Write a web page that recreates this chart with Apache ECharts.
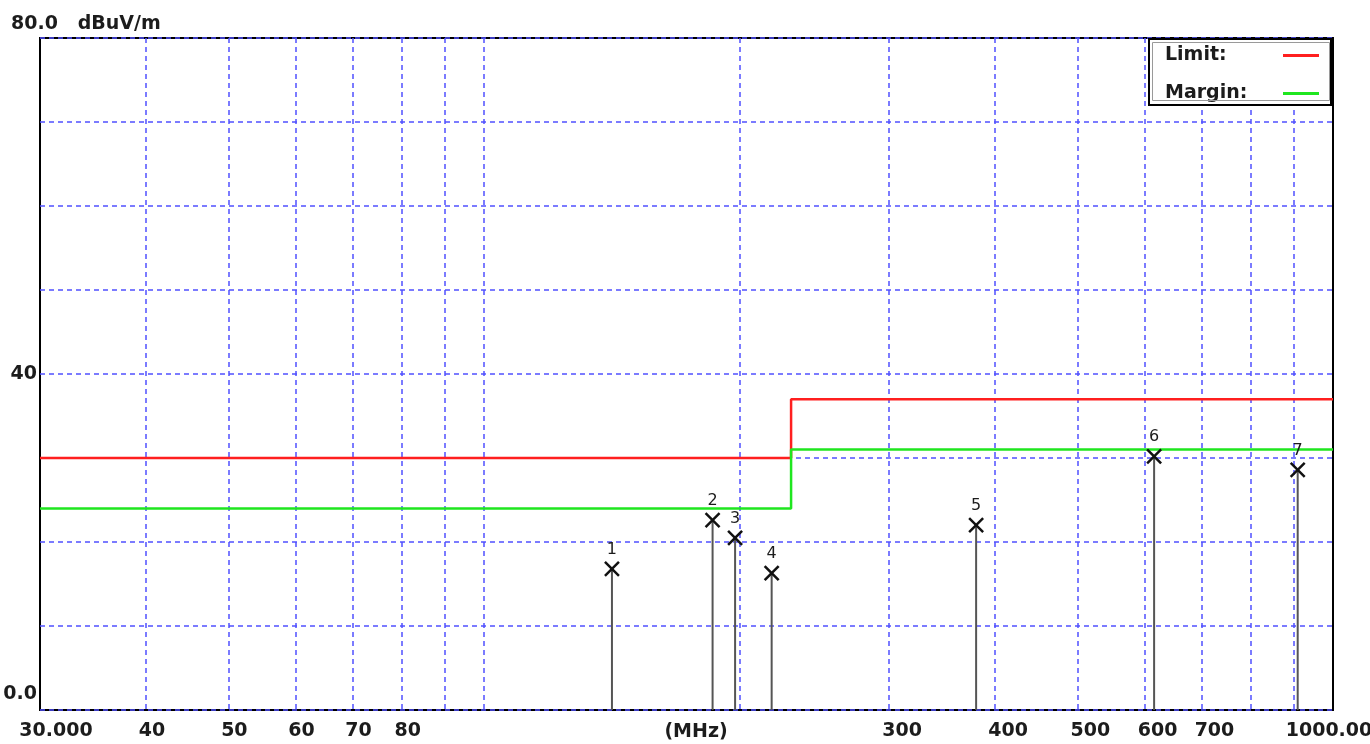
<!DOCTYPE html>
<html>
<head>
<meta charset="utf-8">
<title>Radiated Emission</title>
<script src="https://cdn.jsdelivr.net/npm/echarts@6/dist/echarts.min.js"></script>
<style>
  html, body { margin: 0; padding: 0; background: #fff; }
  #chart { width: 1370px; height: 744px; }
</style>
</head>
<body>
<div id="chart"></div>
<script>
// Frequency axis (MHz, logarithmic) – label positions and texts
const xTickFreqs  = [30, 40, 50, 60, 70, 80, 300, 400, 500, 600, 700, 1000];
const xTickLabels = ['30.000', '40', '50', '60', '70', '80', '300', '400', '500', '600', '700', '1000.00'];
// Vertical grid lines (MHz)
const xGridFreqs = [40, 50, 60, 70, 80, 90, 100, 200, 300, 400, 500, 600, 700, 800, 900];

// Level axis (dBuV/m)
const yTickValues = [0, 40];
const yTickLabels = ['0.0', '40'];

// Limit and margin lines (step at 230 MHz)
const limitFreqs   = [30, 230, 230, 1000];
const limitLevels  = [30, 30, 37, 37];
const marginLevels = [24, 24, 31, 31];

// Measured peaks
const peakFreqs  = [141.5, 185.9, 197.6, 218.2, 379.9, 615.6, 908.7];
const peakLevels = [16.8, 22.6, 20.5, 16.3, 22.0, 30.2, 28.6];
const peakLabels = ['1', '2', '3', '4', '5', '6', '7'];

const lg = Math.log10;
const FONT = 'DejaVu Sans';

function labelFor(v) {
  for (let i = 0; i < xTickFreqs.length; i++) {
    if (Math.abs(lg(xTickFreqs[i]) - v) < 1e-6) return { text: xTickLabels[i], i };
  }
  return null;
}

const chart = echarts.init(document.getElementById('chart'), null, { renderer: 'canvas' });

const baseText = { fontFamily: FONT, fontSize: 19, fontWeight: 'bold', color: '#1c1c1c' };

const option = {
  animation: false,
  backgroundColor: '#fff',
  title: {
    text: '80.0   dBuV/m',
    left: 6,
    top: 10,
    textStyle: Object.assign({}, baseText)
  },
  legend: {
    data: ['Limit:', 'Margin:'],
    orient: 'vertical',
    left: 1149,
    top: 39,
    align: 'right',
    padding: [7, 12, 2, 16],
    itemGap: 19,
    itemWidth: 36,
    itemHeight: 3,
    icon: 'rect',
    backgroundColor: '#fff',
    borderColor: '#000',
    borderWidth: 2,
    selectedMode: false,
    formatter: name => '{n|' + name + '}',
    textStyle: Object.assign({}, baseText, {
      rich: { n: Object.assign({}, baseText, { width: 113, align: 'left' }) }
    })
  },
  graphic: [{
    type: 'rect',
    z: 100,
    silent: true,
    shape: { x: 1152.5, y: 42.5, width: 177, height: 58 },
    style: { fill: null, stroke: '#9a9a9a', lineWidth: 1 }
  }],
  grid: {
    left: 40, right: 37, top: 38, bottom: 34,
    outerBoundsMode: 'none',
    containLabel: false,
    show: true,
    borderColor: '#000',
    borderWidth: 2,
    backgroundColor: 'transparent'
  },
  xAxis: {
    type: 'value',
    min: lg(30),
    max: lg(1000),
    name: '(MHz)',
    nameLocation: 'middle',
    nameGap: 13,
    nameMoveOverlap: false,
    nameTextStyle: Object.assign({}, baseText, { padding: [0, 0, 0, 19], verticalAlign: 'top' }),
    axisLine: { show: false },
    axisTick: { show: false, customValues: xGridFreqs.map(lg) },
    splitLine: {
      show: true,
      lineStyle: { color: '#5050ff', width: 1.5, type: [5, 4] }
    },
    axisLabel: {
      customValues: xTickFreqs.map(lg),
      margin: 12,
      formatter: v => {
        const l = labelFor(v);
        if (!l) return '';
        if (l.i === 0) return '{a|' + l.text + '}';
        if (l.i === xTickFreqs.length - 1) return '{z|' + l.text + '}';
        if (xTickFreqs[l.i] >= 300) return '{c|' + l.text + '}';
        return '{b|' + l.text + '}';
      },
      rich: {
        a: Object.assign({}, baseText, { padding: [0, 0, 0, 32] }),
        b: Object.assign({}, baseText, { padding: [0, 0, 0, 12] }),
        c: Object.assign({}, baseText, { padding: [0, 0, 0, 26] }),
        z: Object.assign({}, baseText, { padding: [0, 8, 0, 0] })
      }
    }
  },
  yAxis: {
    type: 'value',
    min: 0,
    max: 80,
    interval: 10,
    axisLine: { show: false },
    axisTick: { show: false },
    splitLine: {
      show: true,
      lineStyle: { color: '#5050ff', width: 1.5, type: [5, 4] }
    },
    axisLabel: {
      customValues: yTickValues,
      margin: 3,
      formatter: v => {
        const i = yTickValues.indexOf(v);
        if (i < 0) return '';
        return v === 0 ? '{lo|' + yTickLabels[i] + '}' : '{m|' + yTickLabels[i] + '}';
      },
      rich: {
        lo: Object.assign({}, baseText, { padding: [0, 0, 32, 0] }),
        m: Object.assign({}, baseText)
      }
    }
  },
  series: [
    {
      name: 'Limit:',
      type: 'line',
      symbol: 'none',
      z: 3,
      color: '#ff1f1f',
      lineStyle: { color: '#ff1f1f', width: 2.5 },
      data: limitFreqs.map((f, i) => [lg(f), limitLevels[i]])
    },
    {
      name: 'Margin:',
      type: 'line',
      symbol: 'none',
      z: 3,
      color: '#1fe61f',
      lineStyle: { color: '#1fe61f', width: 2.5 },
      data: limitFreqs.map((f, i) => [lg(f), marginLevels[i]])
    },
    {
      name: 'Peaks',
      type: 'custom',
      z: 4,
      silent: true,
      data: peakFreqs.map((f, i) => [lg(f), peakLevels[i]]),
      renderItem: (params, api) => {
        const x = api.value(0);
        const v = api.value(1);
        const top = api.coord([x, v]);
        const base = api.coord([x, 0]);
        const s = 7;
        return {
          type: 'group',
          children: [
            { type: 'line', shape: { x1: base[0], y1: base[1], x2: top[0], y2: top[1] },
              style: { stroke: '#555', lineWidth: 2 } },
            { type: 'line', shape: { x1: top[0] - s, y1: top[1] - s, x2: top[0] + s, y2: top[1] + s },
              style: { stroke: '#111', lineWidth: 2.5 } },
            { type: 'line', shape: { x1: top[0] - s, y1: top[1] + s, x2: top[0] + s, y2: top[1] - s },
              style: { stroke: '#111', lineWidth: 2.5 } },
            { type: 'text',
              style: { x: top[0], y: top[1] - 19, text: peakLabels[params.dataIndex],
                       align: 'center', verticalAlign: 'middle',
                       font: '16px "' + FONT + '"', fill: '#1c1c1c' } }
          ]
        };
      }
    }
  ]
};

chart.setOption(option);
</script>
</body>
</html>
